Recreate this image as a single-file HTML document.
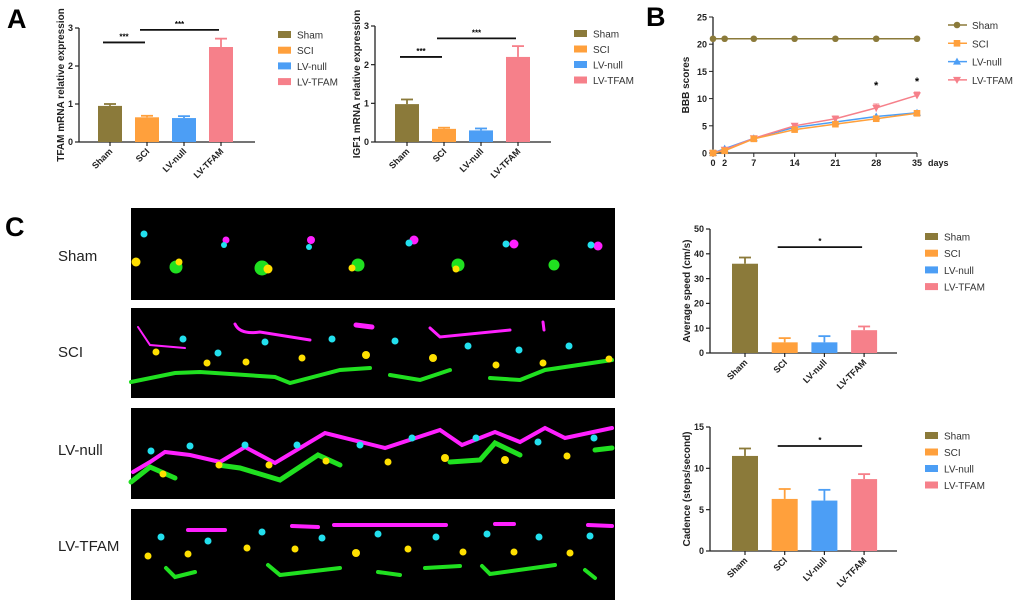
<!DOCTYPE html>
<html><head><meta charset="utf-8"><style>
html,body{margin:0;padding:0;background:#fff;}
svg{display:block;font-family:"Liberation Sans",Arial,sans-serif;}
.t{font-size:9px;font-weight:bold;fill:#222;}
.lg{font-size:10px;fill:#333;}
.yl{font-size:10px;font-weight:bold;fill:#222;}
</style></head><body>
<svg id="fig" width="1020" height="600" viewBox="0 0 1020 600">
<text x="7" y="28" font-size="27" font-weight="bold">A</text>
<text x="646" y="26" font-size="27" font-weight="bold">B</text>
<text x="5" y="236" font-size="27" font-weight="bold">C</text>

<g font-family="Liberation Sans, sans-serif">
 <text x="58" y="261" font-size="15" fill="#222">Sham</text>
 <text x="58" y="357" font-size="15" fill="#222">SCI</text>
 <text x="58" y="455" font-size="15" fill="#222">LV-null</text>
 <text x="58" y="551" font-size="15" fill="#222">LV-TFAM</text>
 <rect x="131" y="208" width="484" height="92" fill="#000"/>
 <rect x="131" y="308" width="484" height="90" fill="#000"/>
 <rect x="131" y="408" width="484" height="91" fill="#000"/>
 <rect x="131" y="509" width="484" height="91" fill="#000"/>
 <g>
  <circle cx="144" cy="234" r="3.5" fill="#22e0ee"/>
  <circle cx="226" cy="240" r="3.5" fill="#ff20ff"/><circle cx="224" cy="245" r="3" fill="#22e0ee"/>
  <circle cx="311" cy="240" r="4" fill="#ff20ff"/><circle cx="309" cy="247" r="3" fill="#22e0ee"/>
  <circle cx="414" cy="240" r="4.5" fill="#ff20ff"/><circle cx="409" cy="243" r="3.5" fill="#22e0ee"/>
  <circle cx="514" cy="244" r="4.5" fill="#ff20ff"/><circle cx="506" cy="244" r="3.5" fill="#22e0ee"/>
  <circle cx="598" cy="246" r="4.5" fill="#ff20ff"/><circle cx="591" cy="245" r="3.5" fill="#22e0ee"/>
  <circle cx="136" cy="262" r="4.5" fill="#ffe000"/>
  <circle cx="176" cy="267" r="6.5" fill="#20e020"/><circle cx="179" cy="262" r="3.5" fill="#ffe000"/>
  <circle cx="262" cy="268" r="7.5" fill="#20e020"/><circle cx="268" cy="269" r="4.5" fill="#ffe000"/>
  <circle cx="358" cy="265" r="6.5" fill="#20e020"/><circle cx="352" cy="268" r="3.5" fill="#ffe000"/>
  <circle cx="458" cy="265" r="6.5" fill="#20e020"/><circle cx="456" cy="269" r="3.5" fill="#ffe000"/>
  <circle cx="554" cy="265" r="5.5" fill="#20e020"/>
 </g>
 <g fill="none" stroke-linecap="round">
  <path d="M138 327 L150 345 L185 348" stroke="#ff20ff" stroke-width="2"/>
  <path d="M235 324 Q240 335 260 332 L310 340" stroke="#ff20ff" stroke-width="3"/>
  <path d="M356 325 L372 327" stroke="#ff20ff" stroke-width="5"/>
  <path d="M430 328 L440 337 L510 330" stroke="#ff20ff" stroke-width="3"/>
  <path d="M543 322 L544 330" stroke="#ff20ff" stroke-width="3"/>
  <path d="M131 382 L175 373 L200 372 L275 377 L290 383 L340 370 L370 368 M390 375 L420 380 L450 370 M490 378 L520 380 L545 370 L612 360" stroke="#20e020" stroke-width="4"/>
 </g>
 <g fill="#22e0ee"><circle cx="183" cy="339" r="3.5"/><circle cx="218" cy="353" r="3.5"/><circle cx="265" cy="342" r="3.5"/><circle cx="332" cy="339" r="3.5"/><circle cx="395" cy="341" r="3.5"/><circle cx="468" cy="346" r="3.5"/><circle cx="519" cy="350" r="3.5"/><circle cx="569" cy="346" r="3.5"/></g>
 <g fill="#ffe000"><circle cx="156" cy="352" r="3.5"/><circle cx="207" cy="363" r="3.5"/><circle cx="246" cy="362" r="3.5"/><circle cx="302" cy="358" r="3.5"/><circle cx="366" cy="355" r="4"/><circle cx="433" cy="358" r="4"/><circle cx="496" cy="365" r="3.5"/><circle cx="543" cy="363" r="3.5"/><circle cx="609" cy="359" r="3.5"/></g>
 <g fill="none" stroke-linecap="round">
  <path d="M133 472 L150 462 L165 452 L190 455 L220 462 L245 447 L275 463 L325 433 L385 448 L440 430 L462 445 L495 432 L520 442 L545 428 L565 438 L612 428" stroke="#ff20ff" stroke-width="4"/>
  <path d="M131 482 L150 467 L175 478 M218 465 L240 468 L280 480 L318 455 L340 465 M450 462 L480 460 L495 443 L520 455 M595 450 L612 448" stroke="#20e020" stroke-width="5"/>
 </g>
 <g fill="#22e0ee"><circle cx="151" cy="451" r="3.5"/><circle cx="190" cy="446" r="3.5"/><circle cx="245" cy="445" r="3.5"/><circle cx="297" cy="445" r="3.5"/><circle cx="360" cy="445" r="3.5"/><circle cx="412" cy="438" r="3.5"/><circle cx="476" cy="438" r="3.5"/><circle cx="538" cy="442" r="3.5"/><circle cx="594" cy="438" r="3.5"/></g>
 <g fill="#ffe000"><circle cx="163" cy="474" r="3.5"/><circle cx="219" cy="465" r="3.5"/><circle cx="269" cy="465" r="3.5"/><circle cx="326" cy="461" r="3.5"/><circle cx="388" cy="462" r="3.5"/><circle cx="445" cy="458" r="4"/><circle cx="505" cy="460" r="4"/><circle cx="567" cy="456" r="3.5"/></g>
 <g fill="none" stroke-linecap="round">
  <path d="M188 530 L225 530" stroke="#ff20ff" stroke-width="4"/>
  <path d="M292 526 L318 527 M334 525 L446 525 M495 524 L514 524 M588 525 L612 526" stroke="#ff20ff" stroke-width="4"/>
  <path d="M166 568 L175 577 L195 572 M268 565 L280 575 L340 568 M378 572 L400 575 M425 568 L460 566 M482 566 L490 574 L555 565 M585 570 L595 578" stroke="#20e020" stroke-width="4"/>
 </g>
 <g fill="#22e0ee"><circle cx="161" cy="537" r="3.5"/><circle cx="208" cy="541" r="3.5"/><circle cx="262" cy="532" r="3.5"/><circle cx="322" cy="538" r="3.5"/><circle cx="378" cy="534" r="3.5"/><circle cx="436" cy="537" r="3.5"/><circle cx="487" cy="534" r="3.5"/><circle cx="539" cy="537" r="3.5"/><circle cx="590" cy="536" r="3.5"/></g>
 <g fill="#ffe000"><circle cx="148" cy="556" r="3.5"/><circle cx="188" cy="554" r="3.5"/><circle cx="247" cy="548" r="3.5"/><circle cx="295" cy="549" r="3.5"/><circle cx="356" cy="553" r="4"/><circle cx="408" cy="549" r="3.5"/><circle cx="463" cy="552" r="3.5"/><circle cx="514" cy="552" r="3.5"/><circle cx="570" cy="553" r="3.5"/></g>
</g>
</svg>
<script>
const NS="http://www.w3.org/2000/svg";
const svg=document.getElementById('fig');
function mk(tag,attrs,parent){const e=document.createElementNS(NS,tag);for(const k in attrs)e.setAttribute(k,attrs[k]);(parent||svg).appendChild(e);return e;}

const groups=["Sham","SCI","LV-null","LV-TFAM"];
const groupColors=["#8b7a3a","#ffa03c","#4c9ef5","#f6808a"];

const tfamValues=[0.95,0.65,0.63,2.5];
const tfamErrors=[0.05,0.04,0.05,0.22];
const tfamTicks=[0,1,2,3];
const igfValues=[0.98,0.34,0.30,2.2];
const igfErrors=[0.12,0.03,0.05,0.28];
const igfTicks=[0,1,2,3];
const speedValues=[36,4.3,4.3,9.2];
const speedErrors=[2.5,1.7,2.5,1.5];
const speedTicks=[0,10,20,30,40,50];
const cadenceValues=[11.5,6.3,6.1,8.7];
const cadenceErrors=[0.9,1.2,1.3,0.6];
const cadenceTicks=[0,5,10,15];
const tfamSig=[[0,1,2.62,"***"],[1,3,2.95,"***"]];
const igfSig=[[0,1,2.2,"***"],[1,3,2.68,"***"]];
const speedSig=[[1,3,42.7,"*"]];
const cadenceSig=[[1,3,12.7,"*"]];

const bbbDays=[0,2,7,14,21,28,35];
const bbbTicks=[0,5,10,15,20,25];
const bbbSham=[21,21,21,21,21,21,21];
const bbbSCI=[0,0.4,2.6,4.3,5.3,6.3,7.3];
const bbbNull=[0,0.8,2.7,4.7,5.7,6.7,7.4];
const bbbTFAM=[0,0.6,2.7,5.0,6.3,8.3,10.6];
const bbbTFAMErr=[0,0.3,0.3,0.4,0.5,0.7,0.6];
const bbbStars=[[28,12.5],[35,13.2]];

function barChart(o){
  const g=mk('g',{});
  
  
  const y=v=>o.bottom-(v/o.max)*(o.bottom-o.top);
  const cx=i=>o.x0+o.first+i*o.step;
  const ax=mk('g',{},g);
  
  
  mk('line',{x1:o.x0,y1:o.top,x2:o.x0,y2:o.bottom,stroke:'#222','stroke-width':1.3},ax);
  o.ticks.forEach(t=>{
    mk('line',{x1:o.x0-4,y1:y(t),x2:o.x0,y2:y(t),stroke:'#222','stroke-width':1.2},ax);
    const tx=mk('text',{x:o.x0-6,y:y(t)+3.2,'text-anchor':'end',class:'t'},ax);tx.textContent=t;
  });
  const xa=mk('line',{x1:o.x0,y1:o.bottom,x2:o.x0+o.len,y2:o.bottom,stroke:'#222','stroke-width':1.3},g);
  
  
  const yl=mk('text',{x:o.ylx,y:(o.top+o.bottom)/2,'text-anchor':'middle',class:'yl',transform:`rotate(-90 ${o.ylx} ${(o.top+o.bottom)/2})`},g);
  yl.textContent=o.ylabel;
  
  
  o.values.forEach((v,i)=>{
    const c=cx(i),w=o.bw;
    mk('line',{x1:c,y1:y(v+o.errors[i]),x2:c,y2:y(v),stroke:groupColors[i],'stroke-width':1.8},g);
    mk('line',{x1:c-6,y1:y(v+o.errors[i]),x2:c+6,y2:y(v+o.errors[i]),stroke:groupColors[i],'stroke-width':1.8},g);
    const b=mk('rect',{x:c-w/2,y:y(v),width:w,height:o.bottom-y(v),fill:groupColors[i]},g);
    
    
    mk('line',{x1:c,y1:o.bottom,x2:c,y2:o.bottom+4,stroke:'#222','stroke-width':1.2},g);
    const lx=c+3,ly=o.bottom+10;
    const lt=mk('text',{x:lx,y:ly,'text-anchor':'end',class:'t',transform:`rotate(-45 ${lx} ${ly})`},g);
    lt.textContent=groups[i];
    
    
  });
  o.sig.forEach(s=>{
    const x1=cx(s[0])-7,x2=cx(s[1])-2;
    const sl=mk('line',{x1:x1,y1:y(s[2]),x2:x2,y2:y(s[2]),stroke:'#111','stroke-width':1.8},g);
    
    
    const st=mk('text',{x:(x1+x2)/2,y:y(s[2])-3,'text-anchor':'middle','font-size':8,'font-weight':'bold'},g);
    st.textContent=s[3];
  });
  groups.forEach((n,i)=>{
    const ly=o.legY+i*o.legStep;
    const le=mk('g',{},g);
    
    
    mk('rect',{x:o.legX,y:ly-4,width:13,height:7,fill:groupColors[i]},le);
    const t=mk('text',{x:o.legX+19,y:ly+3.5,class:'lg'},le);t.textContent=n;
  });
}
barChart({name:'tfam-chart',x0:79,top:28,bottom:142,max:3,len:176,first:31,step:37,bw:24,values:tfamValues,errors:tfamErrors,ticks:tfamTicks,sig:tfamSig,ylabel:'TFAM mRNA relative expression',ylx:64,legX:278,legY:35,legStep:15.7});
barChart({name:'igf1-chart',x0:375,top:26,bottom:142,max:3,len:176,first:32,step:37,bw:24,values:igfValues,errors:igfErrors,ticks:igfTicks,sig:igfSig,ylabel:'IGF1 mRNA relative expression',ylx:360,legX:574,legY:34,legStep:15.5});
barChart({name:'speed-chart',x0:710,top:229,bottom:353,max:50,len:187,first:35,step:39.7,bw:26,values:speedValues,errors:speedErrors,ticks:speedTicks,sig:speedSig,ylabel:'Average speed (cm/s)',ylx:690,legX:925,legY:237,legStep:16.7});
barChart({name:'cadence-chart',x0:710,top:427,bottom:551,max:15,len:187,first:35,step:39.7,bw:26,values:cadenceValues,errors:cadenceErrors,ticks:cadenceTicks,sig:cadenceSig,ylabel:'Cadence (steps/second)',ylx:690,legX:925,legY:436,legStep:16.5});

(function(){
  const g=mk('g',{});
  
  
  const X0=713,X1=917,T=17,B=153;
  const x=d=>X0+d/35*(X1-X0), y=v=>B-v/25*(B-T);
  mk('line',{x1:X0,y1:T,x2:X0,y2:B,stroke:'#222','stroke-width':1.3},g);
  mk('line',{x1:X0,y1:B,x2:X1,y2:B,stroke:'#222','stroke-width':1.3},g);
  bbbTicks.forEach(t=>{mk('line',{x1:X0-4,y1:y(t),x2:X0,y2:y(t),stroke:'#222'},g);
    const tx=mk('text',{x:X0-6,y:y(t)+3.5,'text-anchor':'end',class:'t','font-size':10},g);tx.textContent=t;});
  bbbDays.forEach(d=>{mk('line',{x1:x(d),y1:B,x2:x(d),y2:B+4,stroke:'#222'},g);
    const tx=mk('text',{x:x(d),y:B+13,'text-anchor':'middle',class:'t'},g);tx.textContent=d;});
  const dl=mk('text',{x:928,y:B+13,class:'t'},g);dl.textContent='days';
  const yl=mk('text',{x:689,y:85,'text-anchor':'middle',class:'yl',transform:'rotate(-90 689 85)'},g);yl.textContent='BBB scores';
  
  
  function marker(type,cx,cy,col,p){
    if(type===0)mk('circle',{cx:cx,cy:cy,r:3.3,fill:col},p);
    else if(type===1)mk('rect',{x:cx-3.3,y:cy-3.3,width:6.6,height:6.6,fill:col},p);
    else if(type===2)mk('path',{d:`M${cx} ${cy-4}L${cx+4} ${cy+3}L${cx-4} ${cy+3}Z`,fill:col},p);
    else mk('path',{d:`M${cx} ${cy+4}L${cx+4} ${cy-3}L${cx-4} ${cy-3}Z`,fill:col},p);
  }
  const series=[[bbbSham,0],[bbbNull,2],[bbbTFAM,3],[bbbSCI,1]];
  series.forEach(([vals,i])=>{
    const s=mk('g',{},g);
    
    
    if(i===3)vals.forEach((v,k)=>{mk('line',{x1:x(bbbDays[k])-3,x2:x(bbbDays[k])+3,y1:y(v+bbbTFAMErr[k]),y2:y(v+bbbTFAMErr[k]),stroke:groupColors[3]},s);
      mk('line',{x1:x(bbbDays[k]),x2:x(bbbDays[k]),y1:y(v+bbbTFAMErr[k]),y2:y(v-bbbTFAMErr[k]),stroke:groupColors[3]},s);});
    mk('polyline',{points:vals.map((v,k)=>x(bbbDays[k])+','+y(v)).join(' '),fill:'none',stroke:groupColors[i],'stroke-width':1.5},s);
    vals.forEach((v,k)=>marker(i,x(bbbDays[k]),y(v),groupColors[i],s));
  });
  bbbStars.forEach(s=>{const t=mk('text',{x:x(s[0]),y:y(s[1])+4,'text-anchor':'middle','font-size':11,'font-weight':'bold'},g);t.textContent='*';});
  groups.forEach((n,i)=>{
    const ly=25+i*18.3;
    const le=mk('g',{},g);
    
    
    mk('line',{x1:948,x2:967,y1:ly,y2:ly,stroke:groupColors[i],'stroke-width':1.5},le);
    marker(i,957,ly,groupColors[i],le);
    const t=mk('text',{x:972,y:ly+4,class:'lg','font-size':11},le);t.textContent=n;
  });
})();
</script>
</body></html>
